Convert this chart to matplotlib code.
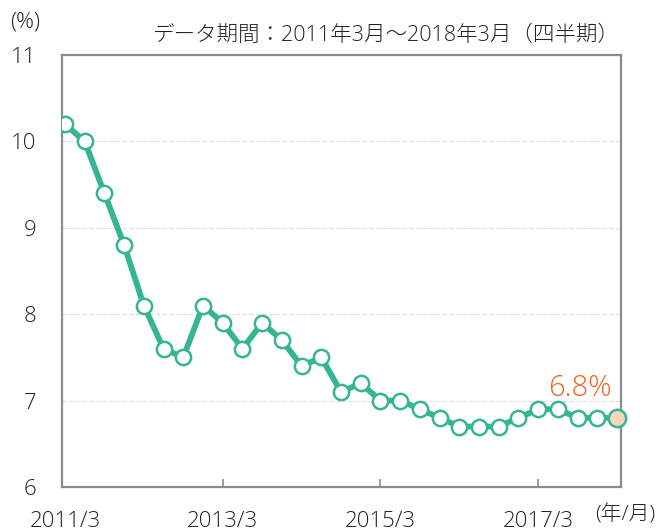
import matplotlib
matplotlib.use('Agg')
from matplotlib import pyplot as plt
import numpy as np

plt.rcParams['font.family'] = ['Open Sans', 'Noto Sans CJK JP', 'DejaVu Sans']
plt.rcParams['font.weight'] = 'light'

# quarterly rate, 2011/3 .. 2018/3
quarters = ['2011/3', '2011/6', '2011/9', '2011/12',
            '2012/3', '2012/6', '2012/9', '2012/12',
            '2013/3', '2013/6', '2013/9', '2013/12',
            '2014/3', '2014/6', '2014/9', '2014/12',
            '2015/3', '2015/6', '2015/9', '2015/12',
            '2016/3', '2016/6', '2016/9', '2016/12',
            '2017/3', '2017/6', '2017/9', '2017/12',
            '2018/3']
values = [10.2, 10.0, 9.4, 8.8,
          8.1, 7.6, 7.5, 8.1,
          7.9, 7.6, 7.9, 7.7,
          7.4, 7.5, 7.1, 7.2,
          7.0, 7.0, 6.9, 6.8,
          6.7, 6.7, 6.7, 6.8,
          6.9, 6.9, 6.8, 6.8,
          6.8]
tick_labels = ['2011/3', '2013/3', '2015/3', '2017/3']
y_ticks = [6, 7, 8, 9, 10, 11]

green = '#35b592'
gray = '#8c8c8c'
txt = '#222222'

fig = plt.figure(figsize=(6.6, 5.32), dpi=100)
ax = fig.add_axes([62 / 660, 1 - 487 / 532, 559 / 660, 432 / 532])

x = np.arange(len(values))
ax.plot(x, values, color=green, lw=4.2, marker='o', ms=11,
        mfc='white', mec=green, mew=1.8, zorder=3)
ax.plot(x[-1], values[-1], marker='o', ms=12.5, mfc='#f9d5c0', mec=green,
        mew=1.8, zorder=4, clip_on=False)
ax.text(x[-1] - 0.25, values[-1] + 0.25, '6.8%', color='#f0641e',
        fontsize=21, ha='right', va='baseline')

ax.set_xlim(-0.15, 28.2)
ax.set_ylim(6, 11)

for v in y_ticks[1:-1]:
    ax.axhline(v, color='#dddddd', lw=0.8, ls=(0, (4, 2)), zorder=1)

ax.set_yticks(y_ticks)
ax.set_yticklabels([str(v) for v in y_ticks])
tick_pos = [quarters.index(t) for t in tick_labels]
ax.set_xticks(tick_pos)
ax.set_xticklabels(tick_labels)
ax.xaxis.get_major_ticks()[0].tick1line.set_visible(False)

ax.tick_params(axis='x', direction='in', length=6, width=1.2, color=gray,
               pad=17, labelsize=16, labelcolor=txt)
ax.tick_params(axis='y', length=0, pad=18.5, labelsize=16, labelcolor=txt)

for s in ax.spines.values():
    s.set_color(gray)
    s.set_linewidth(1.6)

fig.text(25 / 660, 1 - 22 / 532, '(%)', fontsize=16, ha='center', va='center',
         color=txt)
fig.text(620 / 660, 1 - 35 / 532, 'データ期間：2011年3月～2018年3月（四半期）',
         fontsize=15.5, ha='right', va='center', color=txt)
fig.text(625 / 660, 1 - 515 / 532, '(年/月)', fontsize=15, ha='center',
         va='center', color=txt)

fig.savefig('out.png', dpi=100)
